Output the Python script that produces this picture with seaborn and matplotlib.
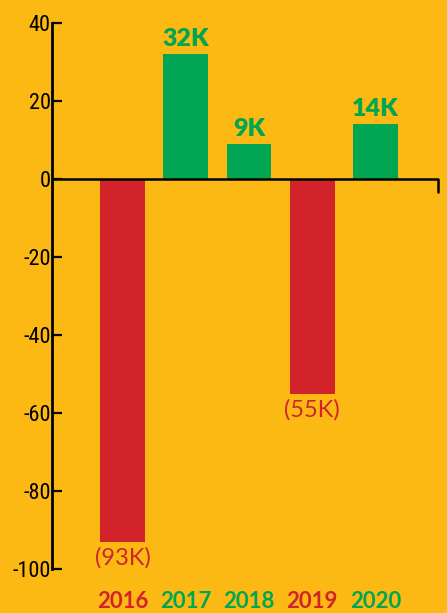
import matplotlib
matplotlib.use("Agg")
import matplotlib.pyplot as plt
from matplotlib import font_manager
import seaborn as sns
import pandas as pd

years = ["2016", "2017", "2018", "2019", "2020"]
net_change = [-93, 32, 9, -55, 14]          # thousands
value_labels = ["(93K)", "32K", "9K", "(55K)", "14K"]
y_ticks = [-100, -80, -60, -40, -20, 0, 20, 40]
y_tick_labels = ["-100", "-80", "-60", "-40", "-20", "0", "20", "40"]

BG = "#FDB913"
GREEN = "#00A651"
RED = "#D2232A"

df = pd.DataFrame({"year": years, "value": net_change})
df["sign"] = ["neg" if v < 0 else "pos" for v in net_change]

sns.set_theme(style="white")
plt.rcParams["font.family"] = ["Lato", "DejaVu Sans"]

names = {f.name for f in font_manager.fontManager.ttflist}
narrow = None
for cand in ["Liberation Sans Narrow", "DejaVu Sans Condensed", "Roboto Condensed"]:
    if cand in names:
        narrow = cand
        break
tick_font = dict(family=[narrow or "DejaVu Sans", "DejaVu Sans"])
if narrow is None:
    tick_font["stretch"] = "condensed"

fig = plt.figure(figsize=(4.47, 6.13), dpi=100, facecolor=BG)
ax = fig.add_axes([52 / 447, (613 - 569) / 613, (438 - 52) / 447, 546 / 613])
ax.set_facecolor(BG)

sns.barplot(data=df, x="year", y="value", hue="sign",
            palette={"pos": GREEN, "neg": RED}, dodge=False,
            width=0.71, legend=False, ax=ax, saturation=1, linewidth=0)

ax.set_ylim(-100, 40)
ax.set_xlim(-1.115, 4.99)
ax.set_xlabel("")
ax.set_ylabel("")

for side in ["top", "right", "bottom"]:
    ax.spines[side].set_visible(False)
ax.spines["left"].set_color("black")
ax.spines["left"].set_linewidth(2)

# zero baseline with a small end tick
ax.axhline(0, color="black", lw=1.8, zorder=3)
ax.plot([1, 1], [0, -3.3], color="black", lw=1.8,
        transform=ax.get_yaxis_transform(), clip_on=False, zorder=3)

ax.set_yticks(y_ticks)
ax.set_yticklabels(y_tick_labels, fontsize=16, **tick_font)
ax.tick_params(axis="y", direction="in", length=7, width=1.6, color="black",
               left=True, pad=1, labelcolor="black")

ax.set_xticks(range(len(years)))
ax.set_xticklabels(years, fontsize=16, fontweight="bold")
ax.tick_params(axis="x", length=0, pad=16)
for lbl, v in zip(ax.get_xticklabels(), net_change):
    lbl.set_color(RED if v < 0 else GREEN)

for i, (v, txt) in enumerate(zip(net_change, value_labels)):
    if v >= 0:
        ax.annotate(txt, (i, v), xytext=(0, 3), textcoords="offset points",
                    ha="center", va="bottom", fontsize=18, fontweight="heavy",
                    color=GREEN)
    else:
        ax.annotate(txt, (i, v), xytext=(0, -4), textcoords="offset points",
                    ha="center", va="top", fontsize=17, color=RED)

fig.savefig("out.png", dpi=100, facecolor=BG)
